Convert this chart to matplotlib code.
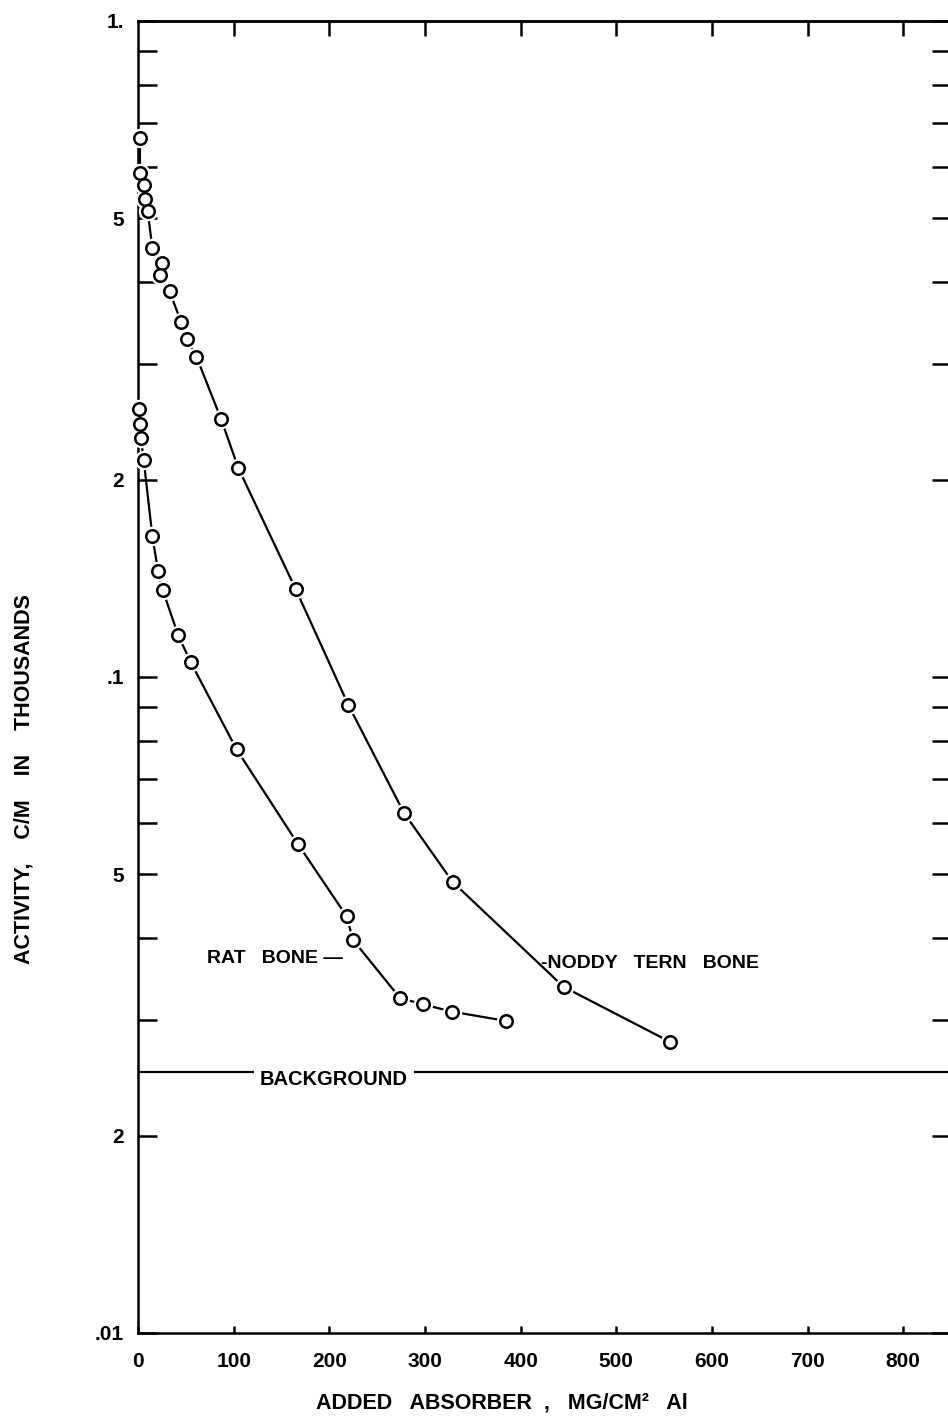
import matplotlib
matplotlib.use('Agg')
import matplotlib.pyplot as plt
from matplotlib.ticker import FixedLocator, FixedFormatter, NullFormatter

plt.rcParams['font.family'] = ['Liberation Sans', 'DejaVu Sans']
plt.rcParams['font.weight'] = 'bold'

# ---- data ----
noddy_x = [2, 2, 6, 7, 10, 15, 25, 23, 33, 45, 51, 61, 87, 105, 165, 220, 278, 329, 445, 556]
noddy_y = [0.663, 0.587, 0.563, 0.536, 0.514, 0.451, 0.428, 0.410, 0.387, 0.348, 0.328,
           0.308, 0.247, 0.208, 0.136, 0.0906, 0.0621, 0.0487, 0.0337, 0.0278]

rat_x = [1, 2, 3, 6, 15, 21, 26, 42, 55, 103, 167, 218, 225, 274, 298, 328, 385]
rat_y = [0.256, 0.243, 0.231, 0.214, 0.164, 0.145, 0.1355, 0.1158, 0.1054, 0.0776,
         0.0557, 0.0432, 0.0397, 0.0324, 0.0317, 0.0309, 0.0299]

background = 0.025

x_ticks = [0, 100, 200, 300, 400, 500, 600, 700, 800]
x_ticklabels = ['0', '100', '200', '300', '400', '500', '600', '700', '800']
top_ticks = [100, 200, 300, 400, 500, 600, 700, 800]
y_major = [0.01, 0.02, 0.05, 0.1, 0.2, 0.5, 1.0]
y_major_labels = ['.01', '2', '5', '.1', '2', '5', '1.']
y_minor = [0.03, 0.04, 0.06, 0.07, 0.08, 0.09, 0.3, 0.4, 0.6, 0.7, 0.8, 0.9]

# ---- figure ----
W, H = 948, 1417
fig = plt.figure(figsize=(W / 100, H / 100), dpi=100)
fig.patch.set_facecolor('white')
ax = fig.add_axes([138 / W, 84 / H, 813 / W, 1312 / H])
ax.set_yscale('log')
ax.set_xlim(0, 850)
ax.set_ylim(0.01, 1.0)

lw = 1.6
for xs, ys in [(noddy_x, noddy_y), (rat_x, rat_y)]:
    ax.plot(xs, ys, color='black', lw=lw, zorder=2, solid_capstyle='round')
    ax.plot(xs, ys, 'o', ms=13, mfc='white', mec='white', zorder=3, clip_on=False)
    ax.plot(xs, ys, 'o', ms=9, mfc='white', mec='black', mew=1.8, zorder=4, clip_on=False)

ax.axhline(background, color='black', lw=lw, zorder=2)

ax.text(205, 0.02388, 'BACKGROUND', ha='center', va='baseline', fontsize=14.5,
        bbox=dict(boxstyle='square,pad=0.3', fc='white', ec='none'), zorder=5)
ax.text(72, 0.03664, 'RAT   BONE \u2014', ha='left', va='baseline', fontsize=14, zorder=5)
ax.text(421, 0.0360, '-NODDY   TERN   BONE', ha='left', va='baseline', fontsize=14, zorder=5)

# ---- axes styling ----
for side in ['left', 'bottom', 'top', 'right']:
    ax.spines[side].set_linewidth(1.8)

ax.set_xticks(x_ticks)
ax.set_xticklabels(x_ticklabels)
ax.tick_params(axis='x', which='both', direction='in', length=5, width=1.8,
               labelsize=15, pad=14, top=False, bottom=True)

sec = ax.secondary_xaxis('top')
sec.set_xticks(top_ticks)
sec.tick_params(axis='x', direction='in', length=11, width=1.8, labeltop=False)
sec.spines['top'].set_linewidth(1.8)

ax.yaxis.set_major_locator(FixedLocator(y_major))
ax.yaxis.set_major_formatter(FixedFormatter(y_major_labels))
ax.yaxis.set_minor_locator(FixedLocator(y_minor))
ax.yaxis.set_minor_formatter(NullFormatter())
ax.tick_params(axis='y', which='both', direction='in', length=14, width=1.8,
               left=True, right=True, labelsize=15, pad=10)

fig.text(24 / W, 1 - 779 / H, 'ACTIVITY,    C/M    IN    THOUSANDS', rotation=90,
         ha='center', va='center', fontsize=15.5)
fig.text(502 / W, 9 / H, 'ADDED   ABSORBER  ,   MG/CM\u00b2   Al', ha='center', va='baseline',
         fontsize=15.5)

fig.savefig('out.png', dpi=100, facecolor='white')
